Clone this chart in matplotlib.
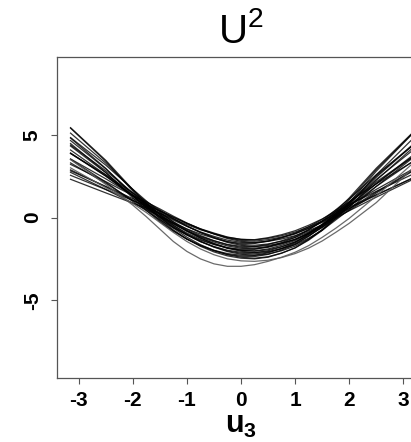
import numpy as np
import matplotlib
matplotlib.use("Agg")
import matplotlib.pyplot as plt

plt.rcParams['font.family'] = ['Liberation Sans', 'DejaVu Sans']
plt.rcParams['mathtext.fontset'] = 'custom'
plt.rcParams['mathtext.rm'] = 'Liberation Sans'
plt.rcParams['mathtext.bf'] = 'Liberation Sans:bold'

# grid of u3 values the curves were read at (denser where they bend)
u3 = [-3.15, -2.5, -2.0, -1.75, -1.5, -1.25, -1.0, -0.75, -0.5, -0.25, 0.0,
      0.25, 0.5, 0.75, 1.0, 1.25, 1.5, 1.75, 2.0, 2.5, 3.15]

# posterior draws of the U^2 effect
s01 = [5.4, 3.4, 1.6, 0.72, -0.09, -0.75, -1.3, -1.74, -2.08, -2.32, -2.46,
       -2.5, -2.4, -2.16, -1.83, -1.33, -0.72, 0.07, 0.9, 2.8, 5.0]
s02 = [4.8, 2.97, 1.34, 0.55, -0.19, -0.8, -1.3, -1.7, -2.01, -2.23, -2.34,
       -2.36, -2.23, -1.97, -1.63, -1.13, -0.52, 0.26, 1.07, 2.9, 5.02]
s03 = [5.1, 3.29, 1.68, 0.9, 0.16, -0.47, -1.0, -1.44, -1.79, -2.06, -2.22,
       -2.29, -2.21, -2.01, -1.73, -1.3, -0.76, -0.07, 0.64, 2.25, 4.14]
s04 = [4.32, 2.71, 1.3, 0.62, -0.03, -0.59, -1.06, -1.45, -1.75, -1.98, -2.1,
       -2.13, -2.01, -1.78, -1.47, -1.02, -0.47, 0.22, 0.93, 2.5, 4.34]
s05 = [4.38, 2.83, 1.48, 0.83, 0.2, -0.36, -0.84, -1.25, -1.57, -1.83, -1.98,
       -2.04, -1.95, -1.76, -1.49, -1.09, -0.59, 0.03, 0.66, 2.05, 3.7]
s06 = [3.9, 2.5, 1.3, 0.72, 0.16, -0.35, -0.8, -1.18, -1.48, -1.72, -1.86,
       -1.9, -1.8, -1.6, -1.33, -0.93, -0.45, 0.15, 0.75, 2.05, 3.6]
s07 = [3.3, 2.07, 1.04, 0.55, 0.06, -0.4, -0.8, -1.14, -1.41, -1.63, -1.74,
       -1.76, -1.63, -1.41, -1.13, -0.73, -0.25, 0.34, 0.92, 2.15, 3.62]
s08 = [3.54, 2.34, 1.34, 0.86, 0.38, -0.09, -0.52, -0.9, -1.2, -1.46, -1.62,
       -1.68, -1.6, -1.44, -1.21, -0.87, -0.46, 0.04, 0.53, 1.55, 2.8]
s09 = [2.88, 1.86, 1.04, 0.65, 0.25, -0.16, -0.54, -0.87, -1.14, -1.37, -1.5,
       -1.53, -1.42, -1.23, -0.99, -0.64, -0.23, 0.27, 0.74, 1.7, 2.88]
s10 = [2.82, 1.88, 1.14, 0.79, 0.42, 0.02, -0.36, -0.7, -0.98, -1.23, -1.38,
       -1.43, -1.34, -1.18, -0.97, -0.66, -0.29, 0.14, 0.55, 1.35, 2.36]
s11 = [2.31, 1.49, 0.87, 0.58, 0.27, -0.09, -0.43, -0.74, -0.98, -1.2, -1.32,
       -1.34, -1.22, -1.04, -0.8, -0.47, -0.09, 0.36, 0.78, 1.58, 2.58]
s12 = [4.65, 2.95, 1.45, 0.72, 0.04, -0.55, -1.05, -1.46, -1.78, -2.02, -2.16,
       -2.2, -2.1, -1.88, -1.58, -1.13, -0.59, 0.11, 0.83, 2.43, 4.3]
s13 = [2.73, 1.7, 0.87, 0.48, 0.08, -0.33, -0.69, -1.0, -1.25, -1.46, -1.56,
       -1.57, -1.43, -1.22, -0.94, -0.56, -0.11, 0.44, 0.96, 2.03, 3.32]
s14 = [4.83, 3.17, 1.71, 1.0, 0.33, -0.27, -0.79, -1.23, -1.58, -1.86, -2.04,
       -2.12, -2.06, -1.89, -1.64, -1.25, -0.77, -0.15, 0.48, 1.88, 3.54]
s15 = [3.87, 2.58, 1.49, 0.97, 0.45, -0.06, -0.51, -0.91, -1.23, -1.51, -1.68,
       -1.76, -1.69, -1.54, -1.32, -0.99, -0.58, -0.07, 0.43, 1.48, 2.76]
s16 = [5.43, 3.46, 1.69, 0.83, 0.03, -0.64, -1.19, -1.64, -1.99, -2.25, -2.4,
       -2.46, -2.37, -2.15, -1.84, -1.37, -0.78, -0.03, 0.77, 2.58, 4.68]
s17 = [3.51, 2.14, 0.97, 0.41, -0.14, -0.62, -1.03, -1.37, -1.63, -1.83, -1.92,
       -1.92, -1.77, -1.52, -1.2, -0.75, -0.21, 0.46, 1.13, 2.58, 4.28]
s18 = [3.21, 2.17, 1.33, 0.93, 0.52, 0.08, -0.33, -0.7, -1.0, -1.27, -1.44,
       -1.51, -1.44, -1.3, -1.1, -0.8, -0.44, 0.0, 0.41, 1.23, 2.26]
s19 = [4.47, 2.73, 1.19, 0.44, -0.26, -0.83, -1.31, -1.69, -1.98, -2.18, -2.28,
       -2.28, -2.14, -1.87, -1.52, -1.01, -0.4, 0.37, 1.18, 2.98, 5.06]
s20 = [3.87, 2.51, 1.35, 0.79, 0.25, -0.26, -0.71, -1.09, -1.4, -1.65, -1.8,
       -1.85, -1.76, -1.57, -1.32, -0.94, -0.48, 0.09, 0.66, 1.88, 3.34]
s21 = [4.08, 2.58, 1.28, 0.65, 0.05, -0.48, -0.94, -1.32, -1.62, -1.85, -1.98,
       -2.01, -1.9, -1.68, -1.39, -0.96, -0.44, 0.2, 0.86, 2.3, 4.0]
s22 = [2.55, 1.69, 1.03, 0.72, 0.39, 0.01, -0.35, -0.68, -0.94, -1.18, -1.32,
       -1.36, -1.26, -1.1, -0.88, -0.57, -0.21, 0.22, 0.62, 1.38, 2.34]
# two draws that dip below the bundle
s23 = [3.5, 2.0, 0.75, 0.05, -0.7, -1.45, -2.05, -2.5, -2.8, -2.95, -2.95,
       -2.85, -2.65, -2.4, -2.1, -1.7, -1.2, -0.65, -0.05, 1.3, 3.2]
s24 = [3.0, 1.8, 0.85, 0.3, -0.3, -0.9, -1.45, -1.9, -2.25, -2.5, -2.62,
       -2.65, -2.58, -2.42, -2.18, -1.85, -1.42, -0.9, -0.35, 0.9, 2.9]

draws = [s01, s02, s03, s04, s05, s06, s07, s08, s09, s10, s11, s12,
         s13, s14, s15, s16, s17, s18, s19, s20, s21, s22]
low_draws = [s23, s24]

xticks = [-3, -2, -1, 0, 1, 2, 3]
yticks = [-5, 0, 5]

W, H = 411, 442
fig = plt.figure(figsize=(W / 100, H / 100), dpi=100)
# axes runs past the right edge (the original was cropped there)
ax = fig.add_axes([57 / W, 64 / H, 368 / W, 321 / H])

for ys in draws:
    ax.plot(u3, ys, color="black", lw=0.9, alpha=0.8, solid_joinstyle="round")
for ys in low_draws:
    ax.plot(u3, ys, color="#5a5a5a", lw=0.9, alpha=0.9, solid_joinstyle="round")

ax.set_xlim(-3.4, 3.4)
ax.set_ylim(-9.7, 9.7)

ax.set_xticks(xticks)
ax.set_yticks(yticks)
ax.set_xticklabels([str(v) for v in xticks], fontsize=15, fontweight="bold")
ax.set_yticklabels([str(v) for v in yticks], fontsize=15, fontweight="bold",
                   rotation=90, va="center")
ax.tick_params(axis="both", direction="out", length=4, width=0.8,
               color="#555555")
ax.tick_params(axis="x", pad=5)
ax.tick_params(axis="y", pad=7)

for sp in ax.spines.values():
    sp.set_color("#555555")
    sp.set_linewidth(0.9)

ax.set_title(r"$\mathregular{U^2}$", fontsize=29, pad=10)
ax.set_xlabel(r"$\mathbf{u_3}$", fontsize=22, labelpad=0)

fig.savefig("out.png", dpi=100)
